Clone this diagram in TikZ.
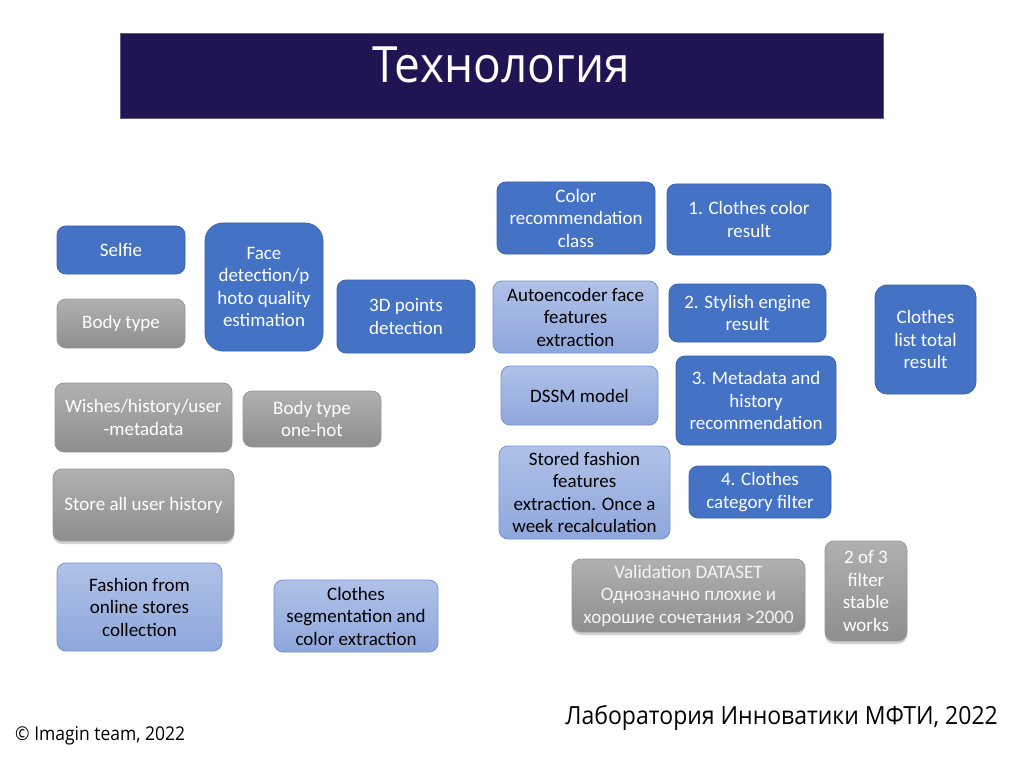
\documentclass[tikz,border=0pt]{standalone}
\usepackage{fontspec}
\setmainfont{Carlito}
\newfontfamily\condfont[FakeStretch=0.92]{Open Sans}
\usetikzlibrary{shadows}
\definecolor{navy}{HTML}{201552}
\definecolor{dblue}{HTML}{4472C4}
\definecolor{dblueedge}{HTML}{3A62AE}
\definecolor{lbluetop}{HTML}{B0C1E8}
\definecolor{lbluebot}{HTML}{8EA7DB}
\definecolor{lblueedge}{HTML}{7893CF}
\definecolor{graytop}{HTML}{B0B0B0}
\definecolor{graybot}{HTML}{8E8E8E}
\tikzset{
  base/.style={rounded corners=9pt, align=center, inner sep=0pt, line width=0.8pt,
    font=\fontsize{19}{22.5}\selectfont},
  dbox/.style={base, fill=dblue, draw=dblueedge, text=white},
  lbox/.style={base, top color=lbluetop, bottom color=lbluebot, draw=lblueedge, text=black},
  gbox/.style={base, top color=graytop, bottom color=graybot, draw=graybot!90!white, text=white},
  sbox/.style={gbox, drop shadow={shadow xshift=0pt, shadow yshift=-3pt, opacity=0.35}},
  sz/.style n args={2}{minimum width=#1pt, minimum height=#2pt},
}
\begin{document}
\begin{tikzpicture}[x=1pt, y=-1pt]
\useasboundingbox (0,0) rectangle (1024,767);
\fill[white] (0,0) rectangle (1024,767);
% title band
\node[fill=navy, draw=navy!70!white, line width=0.6pt, minimum width=763pt, minimum height=85pt, inner sep=0pt] (band) at (501.5,75.5) {};
\node[text=white, font=\condfont\fontsize{50}{50}\selectfont, inner sep=0pt] (title) at (501,65) {Технология};

% left column
\node[dbox, sz={128}{48}] (selfie) at (121,250) {Selfie};
\node[gbox, sz={128}{49}] (bodytype) at (121,323.5) {Body type};
\node[dbox, rounded corners=18pt, sz={118}{128}] (face) at (264,287) {Face\\detection/p\\hoto quality\\estimation};
\node[dbox, sz={138}{73}] (points) at (406,316.5) {3D points\\detection};
\node[gbox, sz={177}{69}] (wishes) at (143.5,417.5) {Wishes/history/user\\-metadata};
\node[gbox, sz={138}{56}] (onehot) at (312,419) {Body type\\one-hot};
\node[sbox, sz={181}{72}] (store) at (143.5,505) {Store all user history};
\node[lbox, sz={165}{88}] (fashion) at (139.5,607) {Fashion from\\online stores\\collection};
\node[lbox, sz={164}{72}] (segm) at (356,616) {Clothes\\segmentation and\\color extraction};

% middle column
\node[dbox, sz={158}{72}] (colorrec) at (576,218) {Color\\recommendation\\class};
\node[lbox, sz={165}{72}] (autoenc) at (575.5,317) {Autoencoder face\\features\\extraction};
\node[lbox, sz={157}{59}] (dssm) at (579.5,395.5) {DSSM model};
\node[lbox, sz={171}{93}] (stored) at (584.5,492.5) {Stored fashion\\features\\extraction. Once a\\week recalculation};

% results
\node[dbox, sz={164}{71}] (res1) at (749,219.5) {1. Clothes color\\result};
\node[dbox, sz={157}{58}] (res2) at (747.5,313) {2. Stylish engine\\result};
\node[dbox, sz={160}{89}] (res3) at (756,400.5) {3. Metadata and\\history\\recommendation};
\node[dbox, sz={142}{52}] (res4) at (760,492) {4. Clothes\\category filter};
\node[dbox, rounded corners=12pt, sz={101}{109}] (total) at (925.5,339.5) {Clothes\\list total\\result};

% validation
\node[sbox, text=white!92!gray, sz={233}{73}] (valid) at (688.5,595.5) {Validation DATASET\\Однозначно плохие и\\хорошие сочетания >2000};
\node[sbox, sz={82}{100}] (twoof3) at (866,591) {2 of 3\\filter\\stable\\works};

% footer
\node[anchor=base west, inner sep=0pt, font=\condfont\fontsize{19}{19}\selectfont] (copy) at (15,740) {© Imagin team, 2022};
\node[anchor=base east, inner sep=0pt, font=\condfont\fontsize{25}{25}\selectfont] (lab) at (998,724) {Лаборатория Инноватики МФТИ, 2022};
\end{tikzpicture}
\end{document}
